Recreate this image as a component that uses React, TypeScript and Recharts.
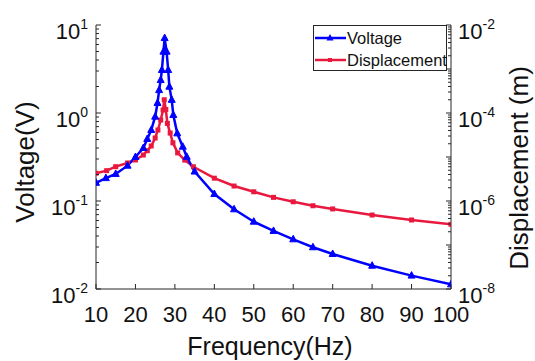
import { LineChart, Line, XAxis, YAxis, Legend } from "recharts"

// values
const voltageFreq = [
  10, 12.5, 15, 18, 20, 22, 23, 24, 25, 25.6, 26, 26.4, 26.7, 27.1, 27.4, 27.9,
  28.3, 28.6, 29.2, 29.6, 30.6, 32, 33, 35, 40, 45, 50, 55, 60, 65, 70, 80, 90, 100,
]
const voltage = [
  0.161, 0.182, 0.203, 0.252, 0.316, 0.4, 0.507, 0.641, 0.908, 1.3, 1.82, 2.37, 3.08,
  4.98, 7.1, 4.98, 3.08, 1.99, 1.41, 0.95, 0.587, 0.414, 0.318, 0.216, 0.12, 0.0805,
  0.0582, 0.0457, 0.0367, 0.0298, 0.025, 0.0184, 0.0142, 0.0113,
]
const dispFreq = [
  10, 12.7, 15, 18, 20, 22, 23, 24, 25, 25.7, 26.4, 27, 27.3, 27.7, 28.1, 28.8, 29.5,
  30.7, 32.5, 34.7, 40, 45, 50, 55, 60, 65, 70, 80, 90, 100,
]
const displacement = [
  4.27e-6, 4.89e-6, 6.03e-6, 7.31e-6, 8.56e-6, 1.11e-5, 1.39e-5, 1.78e-5, 2.7e-5,
  4.11e-5, 6.93e-5, 1.17e-4, 2.0e-4, 1.2e-4, 5.8e-5, 3.5e-5, 2.1e-5, 1.24e-5, 8.5e-6,
  6.0e-6, 3.3e-6, 2.19e-6, 1.62e-6, 1.21e-6, 9.6e-7, 7.8e-7, 6.6e-7, 4.8e-7, 3.7e-7,
  2.95e-7,
]
const xTicks = [10, 20, 30, 40, 50, 60, 70, 80, 90, 100]
const leftDecades = [-2, -1, 0, 1]
const rightDecades = [-8, -7, -6, -5, -4, -3, -2]
// the right axis only labels every other decade
const rightLabelled = [-8, -6, -4, -2]

const voltageData = voltageFreq.map((f, i) => ({ f, v: voltage[i] }))
const dispData = dispFreq.map((f, i) => ({ f, d: displacement[i] }))

// major decades plus the 2..9 minor ticks in between
const withMinor = (decades: number[]) => {
  const out: number[] = []
  decades.forEach((e, i) => {
    out.push(Math.pow(10, e))
    if (i < decades.length - 1) {
      for (let k = 2; k < 10; k++) out.push(k * Math.pow(10, e))
    }
  })
  return out
}

const FONT = '"Liberation Sans", Arial, sans-serif'
const AXIS = "#262626"
const BLUE = "#0000ff"
const RED = "#e8183e"

const isMajor = (v: number) => {
  const l = Math.log10(v)
  return Math.abs(l - Math.round(l)) < 1e-6
}

const Pow = ({ v }: { v: number }) => (
  <>
    <tspan fontSize={22}>10</tspan>
    <tspan fontSize={14} dy={-10}>
      {Math.round(Math.log10(v))}
    </tspan>
  </>
)

const LeftTick = (props: any) => {
  const { x, y, payload } = props
  const major = isMajor(payload.value)
  return (
    <g>
      <line x1={x} x2={x + (major ? 5 : 3)} y1={y} y2={y} stroke={AXIS} />
      {major && (
        <text x={x - 8} y={y + 14} textAnchor="end" fill="#111" fontFamily={FONT}>
          <Pow v={payload.value} />
        </text>
      )}
    </g>
  )
}

const RightTick = (props: any) => {
  const { x, y, payload } = props
  const major = isMajor(payload.value)
  const labelled = major && rightLabelled.includes(Math.round(Math.log10(payload.value)))
  return (
    <g>
      <line x1={x} x2={x - (major ? 5 : 3)} y1={y} y2={y} stroke={AXIS} />
      {labelled && (
        <text x={x + 7} y={y + 14} textAnchor="start" fill="#111" fontFamily={FONT}>
          <Pow v={payload.value} />
        </text>
      )}
    </g>
  )
}

const BottomTick = (props: any) => {
  const { x, y, payload } = props
  return (
    <g>
      <line x1={x} x2={x} y1={y} y2={y - 5} stroke={AXIS} />
      <text x={x} y={y + 33} textAnchor="middle" fontSize={22} fill="#111" fontFamily={FONT}>
        {payload.value}
      </text>
    </g>
  )
}

const TopTick = (props: any) => {
  const { x, y } = props
  return <line x1={x} x2={x} y1={y} y2={y + 5} stroke={AXIS} />
}

const Triangle = (props: any) => {
  const { cx, cy, index } = props
  if (cx == null || cy == null) return <g key={index} />
  return (
    <path
      key={index}
      d={`M${cx},${cy - 4} L${cx + 3.5},${cy + 2.5} L${cx - 3.5},${cy + 2.5} Z`}
      fill={BLUE}
      stroke={BLUE}
    />
  )
}

const Square = (props: any) => {
  const { cx, cy, index } = props
  if (cx == null || cy == null) return <g key={index} />
  return <rect key={index} x={cx - 2.5} y={cy - 2.5} width={5} height={5} fill={RED} />
}

const LegendBox = () => (
  <div
    style={{
      width: 134,
      height: 46,
      boxSizing: "border-box",
      border: `1px solid ${AXIS}`,
      background: "#fff",
      fontFamily: FONT,
      fontSize: 16.5,
      color: "#111",
    }}
  >
    {[
      { name: "Voltage", color: BLUE, tri: true },
      { name: "Displacement", color: RED, tri: false },
    ].map((s) => (
      <div key={s.name} style={{ display: "flex", alignItems: "center", height: 20, marginTop: 2 }}>
        <svg width={33} height={12} style={{ flex: "none" }}>
          <line x1={1} x2={32} y1={6} y2={6} stroke={s.color} strokeWidth={2.5} />
          {s.tri ? (
            <path d="M16,2 L19.5,8.5 L12.5,8.5 Z" fill={s.color} />
          ) : (
            <rect x={14} y={4} width={4} height={4} fill={s.color} />
          )}
        </svg>
        <span style={{ lineHeight: "20px" }}>{s.name}</span>
      </div>
    ))}
  </div>
)

export default function App() {
  return (
    <div style={{ position: "fixed", left: 0, top: 0, width: 535, height: 361, background: "#fff" }}>
      <LineChart width={535} height={361} margin={{ top: 25, right: 24, left: 36, bottom: 12 }}>
        <XAxis
          dataKey="f"
          type="number"
          domain={[10, 100]}
          ticks={xTicks}
          interval={0}
          height={60}
          stroke={AXIS}
          tickSize={0}
          tickMargin={0}
          tickLine={false}
          tick={<BottomTick />}
          allowDataOverflow
          label={() => (
            <text x={270} y={355} textAnchor="middle" fontSize={25} fill="#111" fontFamily={FONT}>
              Frequency(Hz)
            </text>
          )}
        />
        <XAxis
          xAxisId="top"
          orientation="top"
          dataKey="f"
          type="number"
          domain={[10, 100]}
          ticks={xTicks}
          interval={0}
          height={0}
          stroke={AXIS}
          tickSize={0}
          tickMargin={0}
          tickLine={false}
          tick={<TopTick />}
          allowDataOverflow
        />
        <YAxis
          yAxisId="left"
          scale="log"
          domain={[0.01, 10]}
          ticks={withMinor(leftDecades)}
          interval={0}
          width={60}
          stroke={AXIS}
          tickSize={0}
          tickMargin={0}
          tickLine={false}
          tick={<LeftTick />}
          allowDataOverflow
          label={() => (
            <text
              transform="translate(34,162) rotate(-90)"
              textAnchor="middle"
              fontSize={26}
              fill="#111"
              fontFamily={FONT}
            >
              Voltage(V)
            </text>
          )}
        />
        <YAxis
          yAxisId="right"
          orientation="right"
          scale="log"
          domain={[1e-8, 1e-2]}
          ticks={withMinor(rightDecades)}
          interval={0}
          width={60}
          stroke={AXIS}
          tickSize={0}
          tickMargin={0}
          tickLine={false}
          tick={<RightTick />}
          allowDataOverflow
          label={() => (
            <text
              transform="translate(528,168) rotate(-90)"
              textAnchor="middle"
              fontSize={26}
              fill="#111"
              fontFamily={FONT}
            >
              Displacement (m)
            </text>
          )}
        />
        <Legend
          layout="vertical"
          align="center"
          verticalAlign="middle"
          wrapperStyle={{ position: "absolute", left: 313, top: 25, width: 134, height: 46 }}
          content={() => <LegendBox />}
        />
        <Line
          yAxisId="right"
          data={dispData}
          dataKey="d"
          name="Displacement"
          type="linear"
          stroke={RED}
          strokeWidth={2.5}
          dot={Square}
          activeDot={false}
          isAnimationActive={false}
        />
        <Line
          yAxisId="left"
          data={voltageData}
          dataKey="v"
          name="Voltage"
          type="linear"
          stroke={BLUE}
          strokeWidth={2.5}
          dot={Triangle}
          activeDot={false}
          isAnimationActive={false}
        />
      </LineChart>
    </div>
  )
}
